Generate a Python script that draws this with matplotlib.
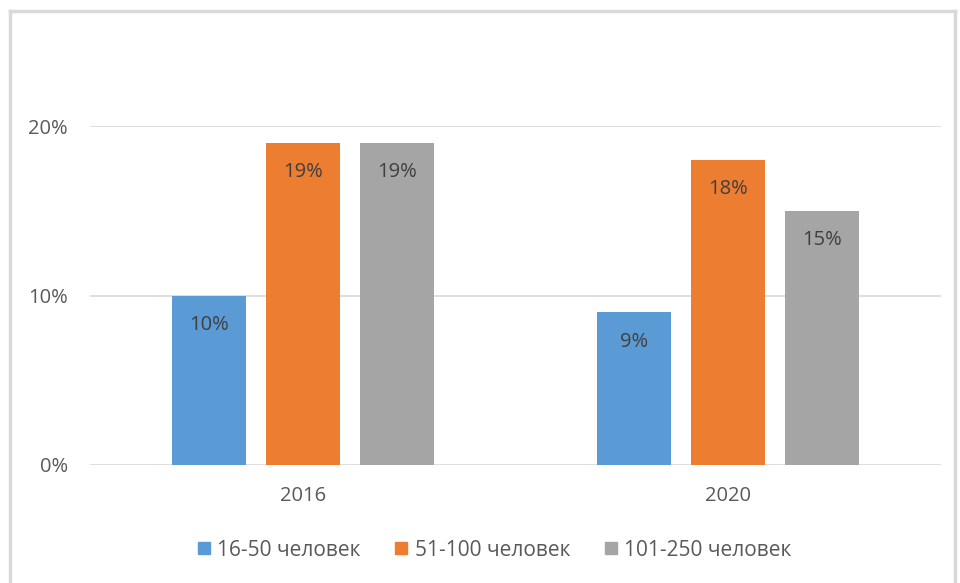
import matplotlib.pyplot as plt
from matplotlib.lines import Line2D
import numpy as np

years = ["2016", "2020"]
series = ["16-50 человек", "51-100 человек", "101-250 человек"]
values = [[10, 9], [19, 18], [19, 15]]
colors = ["#5B9BD5", "#ED7D31", "#A5A5A5"]

plt.rcParams['font.family'] = ['Open Sans', 'DejaVu Sans']
txt = "#595959"

fig = plt.figure(figsize=(9.6, 5.83), dpi=100)
ax = fig.add_axes([90/960, 1-465/583, (941-90)/960, (465-126)/583])

x = np.arange(len(years))
w = 0.174
step = 0.221
for i, (name, vals) in enumerate(zip(series, values)):
    bars = ax.bar(x + (i-1)*step, vals, w, color=colors[i], label=name, zorder=3)
    for b, v in zip(bars, vals):
        ax.annotate(f"{v}%", (b.get_x()+b.get_width()/2, v), xytext=(0, -21),
                    textcoords="offset points", ha="center", va="center",
                    fontsize=14.5, color="#404040", zorder=4)

ax.set_xlim(-0.5, 1.5)
ax.set_ylim(0, 20)
ax.set_yticks([0, 10, 20])
ax.set_yticklabels(["0%", "10%", "20%"])
ax.set_xticks(x)
ax.set_xticklabels(years)
ax.yaxis.grid(True, color="#D9D9D9", linewidth=1.2, zorder=0)
ax.tick_params(axis='both', length=0, labelsize=14.5, labelcolor=txt)
ax.tick_params(axis='y', pad=16)
ax.tick_params(axis='x', pad=15)
for s in ax.spines.values():
    s.set_visible(False)

handles = [Line2D([], [], marker='s', linestyle='none', markersize=8,
                  markerfacecolor=c, markeredgecolor=c) for c in colors]
fig.legend(handles, series, loc="center", bbox_to_anchor=(494/960, 1-550/583),
           ncol=3, frameon=False, fontsize=15, labelcolor=txt,
           handlelength=0.7, handletextpad=0.3, columnspacing=1.6)

# light frame around chart area
border = dict(color="#D9D9D9", linewidth=2.5)
fig.add_artist(Line2D([10/960, 10/960], [0, 1-11/583], **border))
fig.add_artist(Line2D([10/960, 955/960], [1-11/583, 1-11/583], **border))
fig.add_artist(Line2D([955/960, 955/960], [0, 1-11/583], **border))

fig.savefig("out.png", dpi=100)
